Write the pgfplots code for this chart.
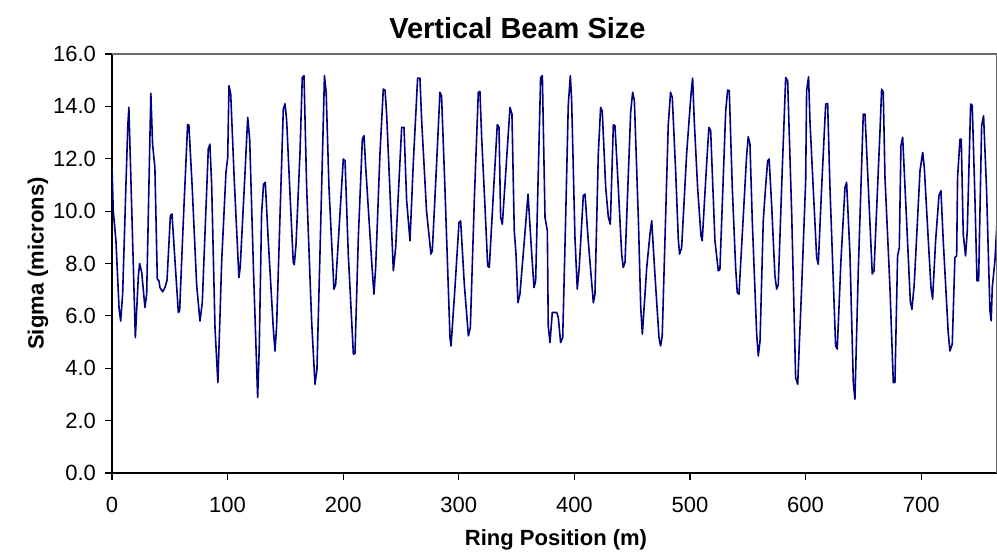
\documentclass[border=0pt]{standalone}
\usepackage{pgfplots}
\pgfplotsset{compat=1.18}
\usepackage{fontspec}
\setmainfont{Liberation Sans}
\definecolor{navyline}{RGB}{0,0,128}
\begin{document}
\begin{tikzpicture}
\useasboundingbox (-56pt,-41.5pt) rectangle (442.5pt,236.5pt);
\begin{axis}[
  at={(0,0)}, anchor=south west,
  scale only axis, width=442.5pt, height=209.5pt,
  xmin=0, xmax=765.6, ymin=0, ymax=16,
  axis x line*=bottom, axis y line*=left,
  axis line style={black, line width=0.6pt, -},
  xtick={0,100,...,700}, ytick={0,2,...,16},
  tick align=outside, major tick length=3.5pt,
  tick style={black, line width=0.6pt},
  minor tick num=0,
  /pgf/number format/assume math mode=true,
  tick label style={font=\fontsize{11}{13}\selectfont},
  xticklabel style={yshift=-4.8pt, /pgf/number format/.cd, fixed, precision=0},
  yticklabel style={xshift=-1pt, /pgf/number format/.cd, fixed, fixed zerofill, precision=1},
  scaled ticks=false,
  clip=true,
]
\addplot[navyline, line width=0.8pt, line join=round, mark=none] coordinates {
(0,11.67) (1.1,10.0) (3.4,8.87) (6.1,6.3) (7.5,5.8) (9.2,6.83) (12.0,10.9) (13.6,13.2) (14.6,13.96)
(20.2,5.17) (22.8,7.53) (23.9,8.0) (25.7,7.66) (28.5,6.32) (30.0,6.83) (33.6,14.5) (35.1,12.56)
(37.1,11.67) (39.2,7.4) (40.6,7.34) (41.5,7.08) (43.8,6.92) (45.8,7.08) (47.6,7.36) (50.5,9.82)
(51.9,9.89) (54.5,8.1) (57.4,6.13) (58.5,6.19) (61.7,9.63) (65.4,13.3) (66.5,13.3) (69.4,10.9)
(73.2,7.2) (76.1,5.8) (78.1,6.5) (83.3,12.37) (84.7,12.56) (86.2,11.03) (89.1,5.55) (91.6,3.45)
(94.9,8.1) (98.6,11.48) (100.1,12.05) (101.2,14.79) (102.7,14.47) (105.8,11.16) (109.8,7.46)
(110.9,7.85) (115.0,11.4) (117.4,13.58) (119.1,12.75) (122.5,7.6) (126.0,2.88) (127.4,4.8)
(129.4,9.89) (131.1,11.03) (132.6,11.1) (135.2,8.87) (139.5,5.55) (141.0,4.66) (142.4,5.6)
(148.2,13.9) (149.7,14.1) (151.1,13.45) (154.0,10.65) (156.8,8.04) (157.7,7.95) (159.2,8.74)
(162.6,12.18) (164.6,15.1) (166.1,15.17) (168.4,10.9) (172.7,5.8) (175.6,3.39) (177.3,3.96)
(179.9,8.36) (183.8,15.17) (185.3,14.5) (187.7,10.9) (192.0,7.02) (193.5,7.2) (200.1,11.99)
(201.6,11.92) (204.4,8.36) (208.8,4.54) (210.2,4.56) (213.1,9.0) (216.6,12.75) (218.0,12.88)
(219.5,11.67) (224.6,8.1) (226.6,6.83) (228.1,7.85) (231.8,12.18) (234.7,14.66) (236.2,14.62)
(237.6,13.7) (243.4,7.72) (245.4,8.61) (250.6,13.2) (252.6,13.2) (254.9,10.4) (257.8,8.87)
(260.6,11.8) (264.4,15.08) (266.4,15.08) (267.9,13.45) (272.1,10.0) (275.9,8.36) (277.1,8.48)
(280.8,11.8) (283.7,14.54) (285.1,14.4) (288.0,10.9) (292.4,5.17) (293.3,4.85) (296.7,7.08)
(300.2,9.57) (301.6,9.63) (304.8,7.2) (308.3,5.24) (310.0,5.55) (313.5,10.52) (316.9,14.54)
(318.3,14.57) (319.8,12.8) (322.7,10.14) (325.0,7.91) (326.4,7.85) (329.9,10.65) (333.3,13.3)
(334.8,13.2) (336.2,9.76) (337.7,9.5) (344.3,13.96) (346.0,13.7) (348.0,9.25) (349.5,8.36)
(351.2,6.5) (352.9,6.83) (356.7,8.87) (359.9,10.65) (363.1,8.36) (365.1,7.08) (366.5,7.34)
(368.8,11.54) (370.8,15.1) (372.3,15.17) (374.6,9.76) (376.6,9.25) (377.4,5.62) (378.9,4.98)
(380.9,6.13) (384.7,6.13) (386.1,5.94) (388.1,4.98) (389.9,5.17) (392.4,9.63) (394.7,14.03)
(396.5,15.17) (397.6,14.28) (400.5,9.0) (402.5,7.02) (404.2,7.85) (407.7,10.59) (409.2,10.65)
(412.0,8.87) (416.4,6.5) (417.8,6.83) (420.7,12.18) (422.7,13.96) (424.1,13.83) (427.1,10.9)
(429.4,9.76) (431.1,9.5) (433.7,13.3) (435.1,13.26) (438.0,10.9) (440.9,8.36) (442.3,7.85)
(443.8,8.04) (448.7,13.77) (450.4,14.54) (451.9,14.22) (455.4,9.63) (457.4,6.32) (458.8,5.3)
(462.6,7.85) (465.4,9.12) (466.9,9.63) (469.8,7.5) (473.2,5.17) (474.6,4.85) (476.0,5.24)
(481.2,13.3) (483.2,14.54) (484.7,14.34) (487.6,11.54) (489.9,8.93) (491.0,8.36) (492.8,8.61)
(497.1,12.18) (500.9,14.47) (502.3,15.08) (503.7,13.45) (506.6,10.9) (509.5,9.06) (510.6,8.87)
(514.4,11.8) (516.4,13.2) (517.9,13.07) (521.6,8.87) (524.5,7.72) (525.9,7.78) (530.9,13.83)
(532.6,14.62) (534.0,14.6) (536.6,10.9) (539.5,7.85) (540.9,6.89) (542.4,6.83) (549.0,12.11)
(550.4,12.84) (551.9,12.56) (553.9,9.63) (557.7,5.3) (559.1,4.47) (560.6,5.04) (563.4,9.63)
(565.5,10.97) (567.2,11.92) (568.5,11.99) (570.6,10.27) (573.5,7.53) (575.0,7.02) (576.4,7.2)
(579.8,11.54) (582.8,15.1) (584.5,14.98) (588.0,9.89) (591.4,3.64) (593.2,3.39) (596.6,7.08)
(600.1,11.16) (600.9,14.6) (602.6,15.13) (603.8,13.45) (606.6,10.9) (609.6,8.23) (611.0,7.97)
(613.9,10.9) (617.4,14.09) (619.1,14.11) (621.1,10.9) (626.0,4.85) (627.4,4.73) (630.6,8.1)
(634.1,10.9) (635.5,11.1) (638.4,8.36) (641.3,3.45) (642.7,2.82) (645.6,7.72) (649.9,13.7)
(651.4,13.7) (654.3,10.9) (657.7,7.6) (659.2,7.72) (664.4,13.07) (665.8,14.66) (667.2,14.54)
(668.7,11.29) (673.0,7.08) (675.9,3.45) (677.3,3.45) (679.6,8.29) (681.1,8.61) (682.5,12.5)
(684.0,12.82) (687.4,9.63) (690.6,6.57) (692.0,6.25) (694.0,7.2) (699.0,11.54) (701.3,12.24)
(702.7,11.67) (706.2,8.87) (708.5,7.08) (709.9,6.64) (712.5,8.87) (715.4,10.59) (717.1,10.78)
(719.1,8.87) (723.4,5.36) (724.9,4.66) (726.9,4.92) (729.2,8.23) (730.7,8.29) (731.5,11.29)
(733.6,12.75) (734.7,12.75) (736.4,9.12) (738.4,8.29) (739.9,9.25) (742.8,14.09) (744.2,14.03)
(746.5,10.52) (748.3,7.34) (749.7,7.34) (752.3,13.26) (754.0,13.64) (756.6,10.78) (759.5,6.19)
(760.6,5.81) (761.5,7.08) (763.8,8.1) (765.5,9.5)
};
\end{axis}
\draw[gray!85!black, line width=0.75pt] (0,209.5pt) -- (442.5pt,209.5pt) -- (442.5pt,0);
\node[font=\bfseries\fontsize{14.5}{17}\selectfont] at (202.75pt,222.5pt) {Vertical Beam Size};
\node[font=\bfseries\fontsize{11}{13}\selectfont] at (222pt,-33.5pt) {Ring Position (m)};
\node[font=\bfseries\fontsize{11}{13}\selectfont, rotate=90] at (-37pt,104.75pt) {Sigma (microns)};
\end{tikzpicture}
\end{document}
